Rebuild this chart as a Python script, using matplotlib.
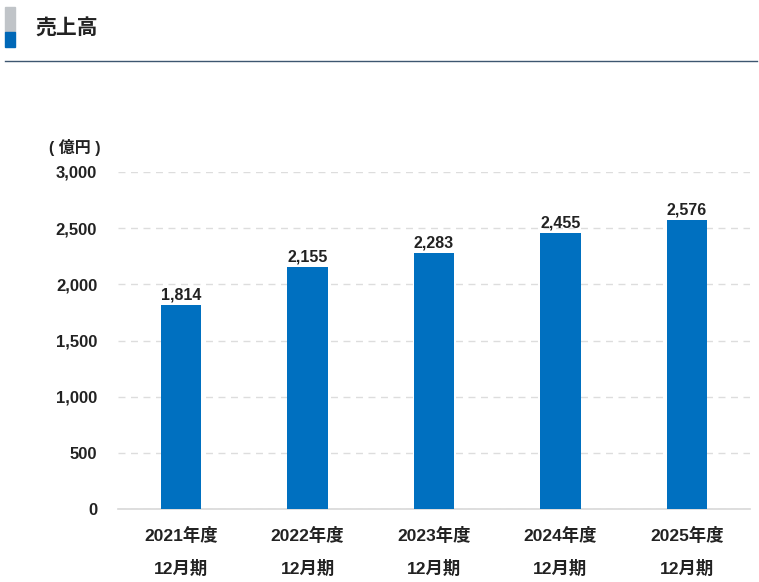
import matplotlib
matplotlib.use("Agg")
import matplotlib.pyplot as plt
from matplotlib.patches import Rectangle
from matplotlib.lines import Line2D

categories = ["2021年度\n12月期", "2022年度\n12月期", "2023年度\n12月期", "2024年度\n12月期", "2025年度\n12月期"]
sales = [1814, 2155, 2283, 2455, 2576]
yticks = [0, 500, 1000, 1500, 2000, 2500, 3000]

FAM = ["Liberation Sans", "Noto Sans CJK JP", "DejaVu Sans"]
plt.rcParams['font.family'] = FAM

W, H = 759, 582
fig = plt.figure(figsize=(W/100, H/100), dpi=100)

# header
fig.patches.append(Rectangle((5/W, 1-32/H), 10/W, 25/H, transform=fig.transFigure, color="#c0c4c8", zorder=0))
fig.patches.append(Rectangle((5/W, 1-47/H), 10/W, 15/H, transform=fig.transFigure, color="#0068b7", zorder=0))
fig.text(35/W, 1-28/H, "売上高", fontsize=15, fontweight="bold", color="#222222",
         family=["Noto Sans CJK JP"], va="center", ha="left")
fig.lines.append(Line2D([5/W, 757/W], [1-61/H, 1-61/H], transform=fig.transFigure, color="#3d5670", lw=1.0))

ax = fig.add_axes([118/W, 1-509/H, 632/W, 337/H])
x = list(range(len(categories)))
bars = ax.bar(x, sales, width=0.32, color="#0070c0", zorder=3)
for xi, v in zip(x, sales):
    ax.text(xi, v + 22, f"{v:,}", ha="center", va="bottom", fontsize=11.5, fontweight="bold", color="#222222")

ax.set_xlim(-0.5, len(categories) - 0.5)
ax.set_ylim(0, 3000)
ax.set_yticks(yticks)
ax.set_yticklabels([f"{t:,}" for t in yticks], fontsize=12, fontweight="bold", color="#222222")
ax.set_xticks(x)
ax.set_xticklabels(categories, fontsize=12.5, fontweight="bold", color="#222222", linespacing=2.1)
ax.tick_params(axis="both", length=0)
ax.tick_params(axis="y", pad=15)
ax.tick_params(axis="x", pad=13)
ax.grid(axis="y", linestyle=(0, (5, 4)), color="#dddddd", lw=1.0, zorder=0)
for s in ["top", "right", "left"]:
    ax.spines[s].set_visible(False)
ax.spines["bottom"].set_color("#d8d8d8")
ax.spines["bottom"].set_linewidth(1.2)
ax.set_axisbelow(True)

fig.text(75/W, 1-147/H, "( 億円 )", fontsize=11.5, fontweight="bold", color="#222222",
         ha="center", va="center")

fig.savefig("out.png", dpi=100)
